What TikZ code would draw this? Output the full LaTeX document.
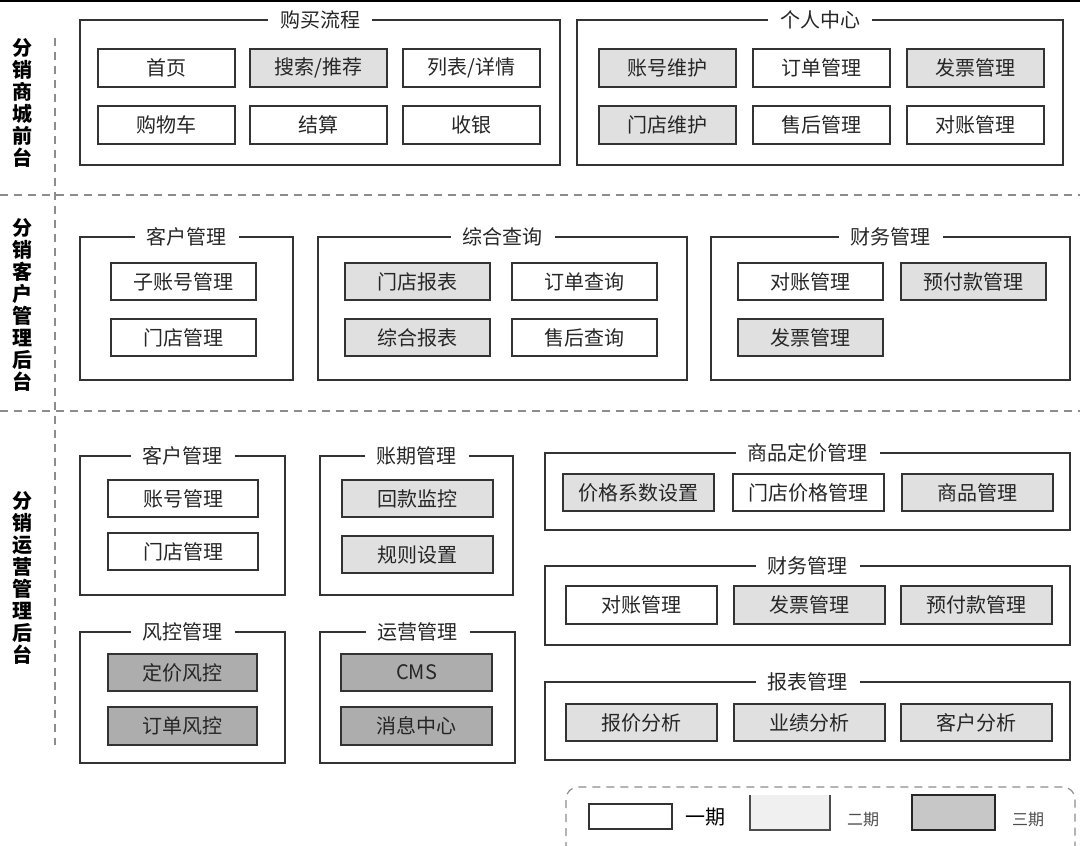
\documentclass[tikz,border=0pt]{standalone}
\usepackage{fontspec}
\setmainfont{Noto Sans CJK SC}
\begin{document}
\begin{tikzpicture}[x=0.5pt,y=-0.5pt,
  frame/.style={draw=black!80,line width=0.7pt},
  ttl/.style={fill=white,inner xsep=6pt,inner ysep=1pt,font=\fontsize{10}{12}\selectfont,text=black!85},
  bx/.style={draw=black!80,line width=0.7pt,font=\fontsize{10}{12}\selectfont,text=black!85,inner sep=0pt},
  lg/.style={bx,fill=black!12},
  dg/.style={bx,fill=black!32},
  side/.style={font=\bfseries\fontsize{10}{12}\selectfont,align=center,inner sep=0pt},
  sep/.style={dashed,draw=black!45,line width=0.6pt,dash pattern=on 4pt off 3pt}]
\useasboundingbox (0,0) rectangle (1080,845);
\draw[line width=0.8pt] (0,1) -- (1080,1);
% helpers
\newcommand{\fr}[6]{\draw[frame] (#1,#2) rectangle (#3,#4); \node[ttl] (#6) at ({(#1+#3)/2},#2) {#5};}
\newcommand{\bxx}[7]{\node[#1,minimum width={(#4-#2)*0.5pt},minimum height={(#5-#3)*0.5pt}] (#7) at ({(#2+#4)/2},{(#3+#5)/2}) {#6};}
% separators
\draw[sep] (0,195) -- (1080,195);
\draw[sep] (0,411) -- (1080,411);
\draw[sep] (55,38) -- (55,745);
% side labels
\node[side] (s1) at (22,103) {分\\[-1pt]销\\[-1pt]商\\[-1pt]城\\[-1pt]前\\[-1pt]台};
\node[side] (s2) at (22,305) {分\\[-1pt]销\\[-1pt]客\\[-1pt]户\\[-1pt]管\\[-1pt]理\\[-1pt]后\\[-1pt]台};
\node[side] (s3) at (22,578) {分\\[-1pt]销\\[-1pt]运\\[-1pt]营\\[-1pt]管\\[-1pt]理\\[-1pt]后\\[-1pt]台};
% section 1
\fr{80}{20}{560}{165}{购买流程}{t1}
\bxx{bx}{98}{49}{235}{87}{首页}{a1}
\bxx{lg}{250}{49}{387}{87}{搜索/推荐}{a2}
\bxx{bx}{403}{49}{540}{87}{列表/详情}{a3}
\bxx{bx}{98}{106}{235}{144}{购物车}{a4}
\bxx{bx}{250}{106}{387}{144}{结算}{a5}
\bxx{bx}{403}{106}{540}{144}{收银}{a6}
\fr{577}{20}{1063}{165}{个人中心}{t2}
\bxx{lg}{599}{49}{736}{87}{账号维护}{b1}
\bxx{bx}{753}{49}{890}{87}{订单管理}{b2}
\bxx{lg}{907}{49}{1044}{87}{发票管理}{b3}
\bxx{lg}{599}{106}{736}{144}{门店维护}{b4}
\bxx{bx}{753}{106}{890}{144}{售后管理}{b5}
\bxx{bx}{907}{106}{1044}{144}{对账管理}{b6}
% section 2
\fr{80}{237}{293}{380}{客户管理}{t3}
\bxx{bx}{111}{263}{256}{300}{子账号管理}{c1}
\bxx{bx}{111}{319}{256}{356}{门店管理}{c2}
\fr{318}{237}{687}{380}{综合查询}{t4}
\bxx{lg}{345}{263}{490}{300}{门店报表}{d1}
\bxx{bx}{512}{263}{657}{300}{订单查询}{d2}
\bxx{lg}{345}{319}{490}{356}{综合报表}{d3}
\bxx{bx}{512}{319}{657}{356}{售后查询}{d4}
\fr{711}{237}{1070}{380}{财务管理}{t5}
\bxx{bx}{738}{263}{883}{300}{对账管理}{e1}
\bxx{lg}{901}{263}{1046}{300}{预付款管理}{e2}
\bxx{lg}{738}{319}{883}{356}{发票管理}{e3}
% section 3
\fr{80}{456}{285}{595}{客户管理}{t6}
\bxx{bx}{108}{480}{258}{517}{账号管理}{f1}
\bxx{bx}{108}{533}{258}{570}{门店管理}{f2}
\fr{320}{456}{513}{595}{账期管理}{t7}
\bxx{lg}{342}{480}{493}{517}{回款监控}{g1}
\bxx{lg}{342}{536}{493}{573}{规则设置}{g2}
\fr{80}{632}{285}{763}{风控管理}{t8}
\bxx{dg}{108}{654}{257}{691}{定价风控}{h1}
\bxx{dg}{108}{707}{257}{745}{订单风控}{h2}
\fr{320}{632}{515}{763}{运营管理}{t9}
\bxx{dg}{341}{654}{492}{691}{CMS}{i1}
\bxx{dg}{341}{707}{492}{745}{消息中心}{i2}
\fr{545}{453}{1070}{530}{商品定价管理}{t10}
\bxx{lg}{563}{474}{714}{511}{价格系数设置}{j1}
\bxx{bx}{733}{474}{884}{511}{门店价格管理}{j2}
\bxx{lg}{902}{474}{1053}{511}{商品管理}{j3}
\fr{545}{566}{1070}{645}{财务管理}{t11}
\bxx{bx}{566}{586}{717}{624}{对账管理}{k1}
\bxx{lg}{734}{586}{885}{624}{发票管理}{k2}
\bxx{lg}{901}{586}{1052}{624}{预付款管理}{k3}
\fr{545}{682}{1070}{760}{报表管理}{t12}
\bxx{lg}{566}{704}{717}{741}{报价分析}{l1}
\bxx{lg}{734}{704}{885}{741}{业绩分析}{l2}
\bxx{lg}{901}{704}{1052}{741}{客户分析}{l3}
% legend
\draw[sep,rounded corners=6pt] (566,850) -- (566,787) -- (1075,787) -- (1075,850);
\bxx{bx}{589}{804}{672}{829}{}{m1}
\node[font=\fontsize{10}{12}\selectfont,anchor=west] (m1t) at (678,817) {一期};
\fill[black!6] (750,795) rectangle (830,830);
\draw[black!70,line width=0.6pt] (750,795) -- (750,830) -- (830,830) -- (830,795);
\node[font=\fontsize{8}{10}\selectfont,anchor=west,text=black!70] (m2t) at (840,820) {二期};
\fill[black!22] (912,795) rectangle (995,830);
\draw[black!85,line width=0.7pt] (912,830) -- (912,795) -- (995,795) -- (995,830) -- cycle;
\node[font=\fontsize{8}{10}\selectfont,anchor=west,text=black!70] (m3t) at (1005,820) {三期};
\end{tikzpicture}
\end{document}
